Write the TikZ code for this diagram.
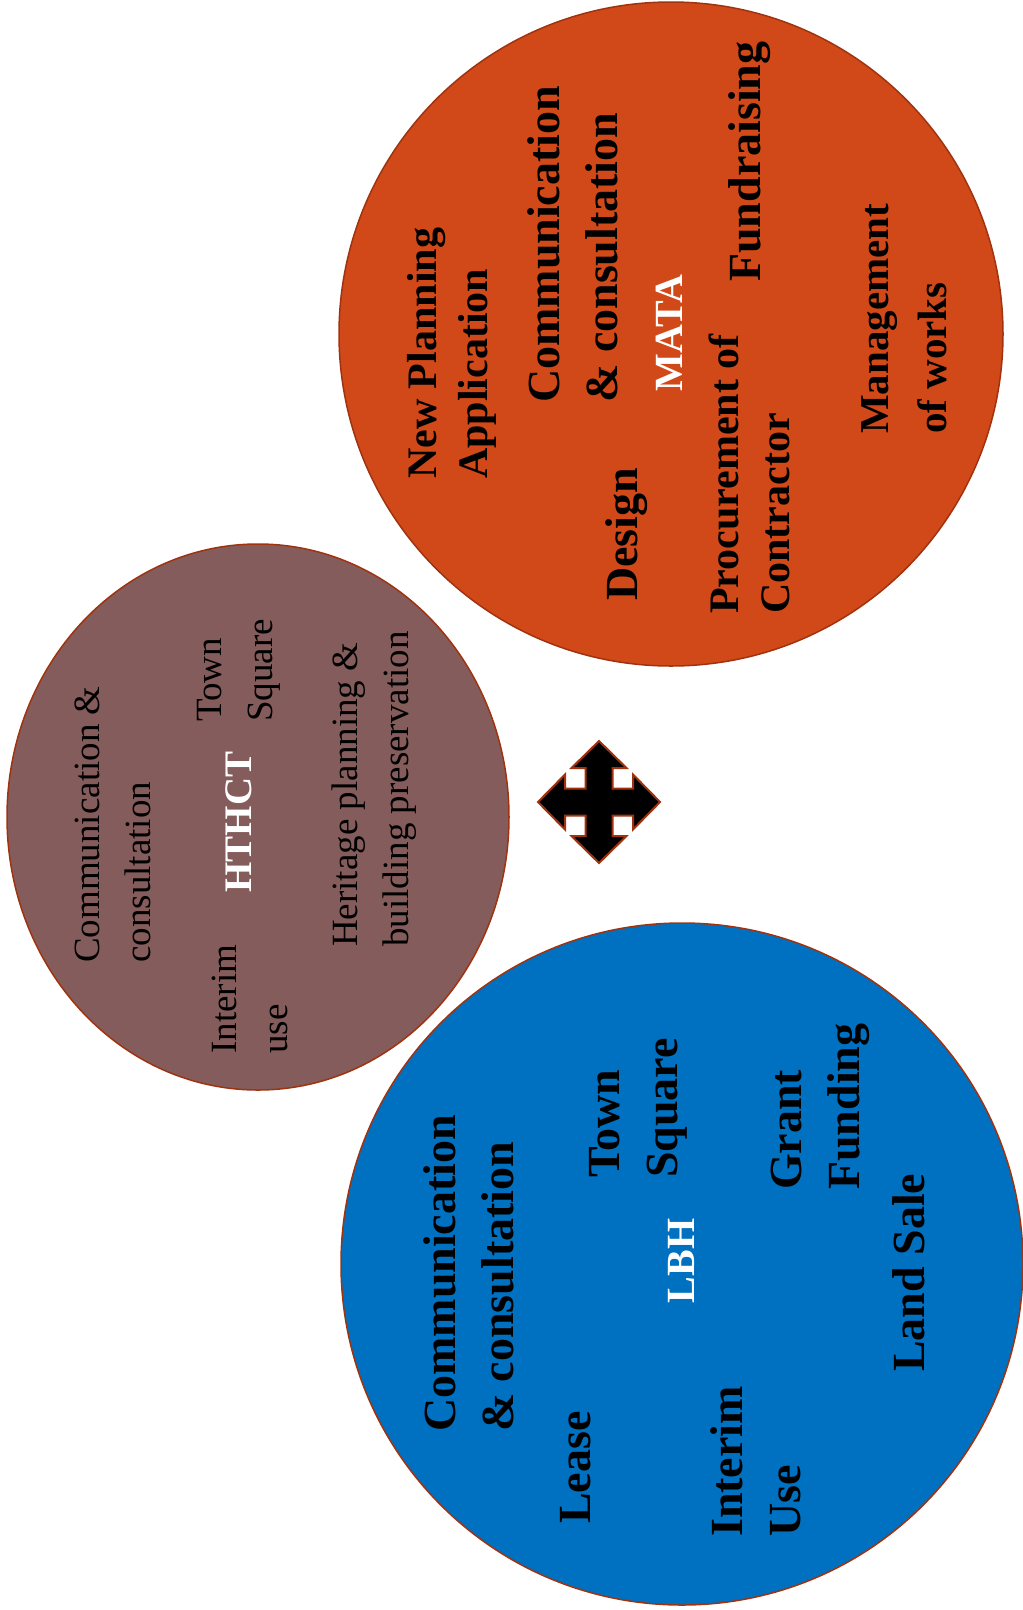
\documentclass[tikz,border=0pt]{standalone}
\usepackage{fontspec}
\setmainfont{Liberation Serif}
\definecolor{orangefill}{HTML}{D14918}
\definecolor{brownfill}{HTML}{845C5B}
\definecolor{bluefill}{HTML}{0070C0}
\definecolor{ringcol}{HTML}{A0330F}
\begin{document}
\begin{tikzpicture}[x=1pt,y=-1pt,
  blob/.style={draw=ringcol, line width=1.5pt},
  lbl/.style={rotate=90, anchor=north west, inner sep=0pt, align=left, text=black},
  hub/.style={rotate=90, anchor=center, inner sep=0pt, text=white, font=\bfseries\fontsize{40pt}{48pt}\selectfont},
  bigbold/.style={font=\bfseries\fontsize{46pt}{58pt}\selectfont},
  midbold/.style={font=\bfseries\fontsize{42pt}{51pt}\selectfont},
  plainreg/.style={font=\fontsize{37pt}{51pt}\selectfont}]
\useasboundingbox (0,0) rectangle (1023,1610);

% circles
\draw[blob, fill=brownfill] (258,817) ellipse[x radius=251pt, y radius=273pt];
\draw[blob, fill=orangefill] (671,334) circle[radius=332pt];
\draw[blob, fill=bluefill] (682,1264) circle[radius=341pt];

% quad arrow
\coordinate (arrowc) at (599,802);
\begin{scope}[shift={(arrowc)}]
\draw[fill=black, draw=ringcol, line width=2pt, line join=miter]
  (0,-61) -- (27.5,-34) -- (13.5,-34) -- (13.5,-13.5) -- (34,-13.5) -- (34,-27.5)
  -- (61,0) -- (34,27.5) -- (34,13.5) -- (13.5,13.5) -- (13.5,34) -- (27.5,34)
  -- (0,61) -- (-27.5,34) -- (-13.5,34) -- (-13.5,13.5) -- (-34,13.5) -- (-34,27.5)
  -- (-61,0) -- (-34,-27.5) -- (-34,-13.5) -- (-13.5,-13.5) -- (-13.5,-34) -- (-27.5,-34)
  -- cycle;
\end{scope}

% MATA (orange)
\node[lbl, midbold] (onew) at (407,479) {New Planning\\Application};
\node[lbl, bigbold] (ocomm) at (527,403) {Communication\\\& consultation};
\node[lbl, bigbold] (odesign) at (605,601) {Design};
\node[hub] (omata) at (669,333) {MATA};
\node[lbl, midbold] (oproc) at (709,614) {Procurement of\\Contractor};
\node[lbl, bigbold] (ofund) at (728,282) {Fundraising};
\node[lbl, font=\bfseries\fontsize{41pt}{58pt}\selectfont] (omgmt) at (861,434) {Management\\of works};

% HTHCT (brown)
\node[lbl, plainreg] (hcomm) at (75,963) {Communication \&\\consultation};
\node[lbl, plainreg] (htown) at (197,722) {Town\\Square};
\node[hub, font=\bfseries\fontsize{39pt}{46pt}\selectfont] (hthct) at (239,822) {HTHCT};
\node[lbl, plainreg] (hinterim) at (212,1054) {Interim\\use};
\node[lbl, plainreg] (hheritage) at (332,947) {Heritage planning \&\\building preservation};

% LBH (blue)
\node[lbl, bigbold] (bcomm) at (423,1432) {Communication\\\& consultation};
\node[lbl, bigbold] (blease) at (560,1524) {Lease};
\node[lbl, bigbold] (btown) at (589,1178) {Town\\Square};
\node[hub] (blbh) at (681,1261) {LBH};
\node[lbl, bigbold] (binterim) at (710,1537) {Interim\\Use};
\node[lbl, bigbold] (bgrant) at (771,1190) {Grant\\Funding};
\node[lbl, bigbold] (bland) at (892,1372) {Land Sale};
\end{tikzpicture}
\end{document}
